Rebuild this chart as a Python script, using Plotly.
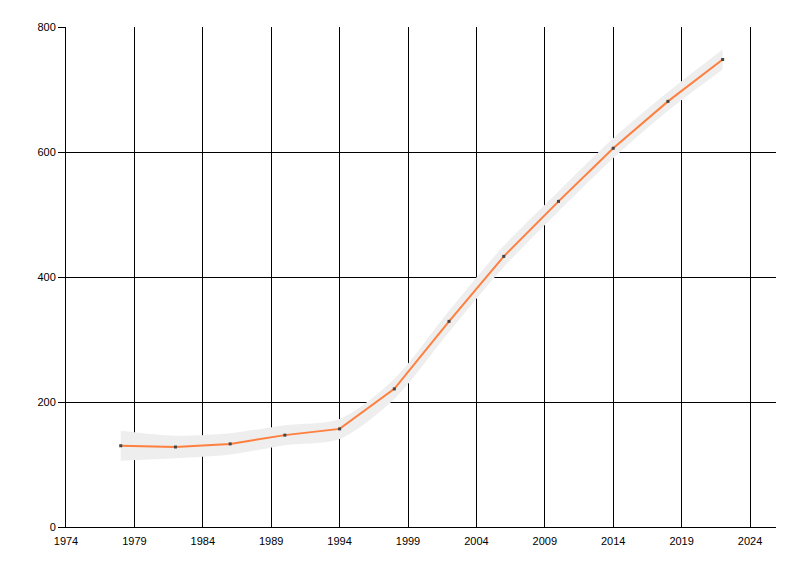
import plotly.graph_objects as go

years = [1978, 1982, 1986, 1990, 1994, 1998, 2002, 2006, 2010, 2014, 2018, 2022]
values = [130, 128, 133, 147, 157, 221, 329, 433, 521, 606, 681, 748]
band_half = [24, 18, 17, 16, 16, 16, 17, 17, 16, 16, 15, 16]
x_ticks = [1974, 1979, 1984, 1989, 1994, 1999, 2004, 2009, 2014, 2019, 2024]
y_ticks = [0, 200, 400, 600, 800]

upper = [v + h for v, h in zip(values, band_half)]
lower = [v - h for v, h in zip(values, band_half)]

fig = go.Figure()
fig.add_trace(go.Scatter(x=years, y=upper, mode="lines", line=dict(width=0, shape="spline", smoothing=0.8),
                         hoverinfo="skip", showlegend=False))
fig.add_trace(go.Scatter(x=years, y=lower, mode="lines", line=dict(width=0, shape="spline", smoothing=0.8),
                         fill="tonexty", fillcolor="#EEEEEE", hoverinfo="skip", showlegend=False))
fig.add_trace(go.Scatter(x=years, y=values, mode="lines+markers",
                         line=dict(color="#FF7F3F", width=2),
                         marker=dict(symbol="square", size=3, color="#444444"),
                         showlegend=False))

fig.update_layout(
    width=800, height=576,
    margin=dict(l=58, r=32, t=19, b=57),
    paper_bgcolor="white", plot_bgcolor="white",
    font=dict(family="Liberation Sans", size=11, color="black"),
)
fig.update_xaxes(range=[1974, 2025.9], tickvals=x_ticks, ticktext=[str(t) for t in x_ticks],
                 showgrid=True, gridcolor="black", gridwidth=1, zeroline=False,
                 showline=True, linecolor="black", linewidth=1, ticks="", ticklabelstandoff=4)
fig.update_yaxes(range=[0, 800], tickvals=y_ticks, showgrid=True, gridcolor="black", gridwidth=1,
                 zeroline=False, showline=True, linecolor="black", linewidth=1,
                 ticks="outside", ticklen=7, tickcolor="black")

fig.write_html("out.html")
